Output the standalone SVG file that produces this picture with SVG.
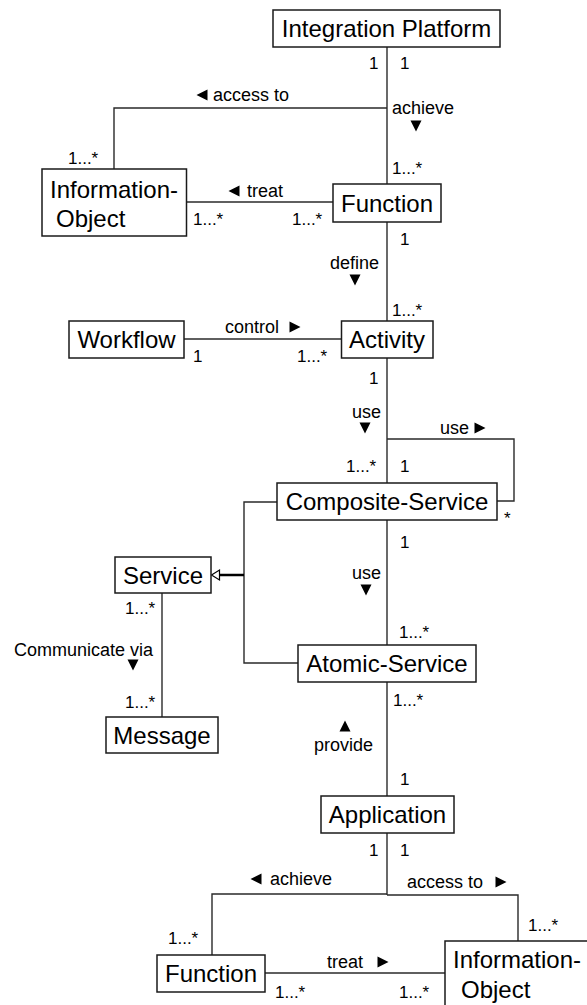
<svg xmlns="http://www.w3.org/2000/svg" xmlns:xlink="http://www.w3.org/1999/xlink" width="587" height="1005" viewBox="0 0 587 1005">
<style>
.box{fill:#fff;stroke:#1a1a1a;stroke-width:1.5}
.nt{font-family:"Liberation Sans",Arial,sans-serif;font-size:24px;fill:#000;text-anchor:middle}
.nl{font-family:"Liberation Sans",Arial,sans-serif;font-size:24px;fill:#000}
.lb{font-family:"Liberation Sans",Arial,sans-serif;font-size:18px;fill:#000}
.mu{font-family:"Liberation Sans",Arial,sans-serif;font-size:17px;fill:#000}
.ln{fill:none;stroke:#2a2a2a;stroke-width:1.4}
.tri{fill:#000}
</style>
<defs>
<path id="td" d="M-5.5,-5.5 H5.5 L0,5.5 Z"/>
<path id="tu" d="M-5.5,5.5 H5.5 L0,-5.5 Z"/>
<path id="tl" d="M5.5,-5.5 V5.5 L-5.5,0 Z"/>
<path id="tr" d="M-5.5,-5.5 V5.5 L5.5,0 Z"/>
</defs>
<g id="connectors">
<path class="ln" d="M387,47 V184"/>
<path class="ln" d="M387,108 H114 V169"/>
<path class="ln" d="M186.5,202 H333"/>
<path class="ln" d="M387,222 V321"/>
<path class="ln" d="M184,339 H341.5"/>
<path class="ln" d="M387,358 V483"/>
<path class="ln" d="M387,439 H514 V501 H497"/>
<path class="ln" d="M387,520 V645"/>
<path class="ln" d="M277,502 H244 V663 H298"/>
<path d="M219,575 H244" fill="none" stroke="#000" stroke-width="2.5"/>
<path d="M211.5,575 L219.5,570 V580 Z" fill="#fff" stroke="#000" stroke-width="1.2"/>
<path class="ln" d="M162,593 V717"/>
<path class="ln" d="M387,682 V796"/>
<path class="ln" d="M387,833 V895"/>
<path class="ln" d="M387,894 H212 V955"/>
<path class="ln" d="M387,895 H518 V941"/>
<path class="ln" d="M265,973 H445"/>
<g class="tri">
<use xlink:href="#tl" x="202" y="95"/>
<use xlink:href="#td" x="416" y="126"/>
<use xlink:href="#tl" x="234" y="191"/>
<use xlink:href="#td" x="355" y="280"/>
<use xlink:href="#tr" x="295" y="327"/>
<use xlink:href="#td" x="365" y="428"/>
<use xlink:href="#tr" x="480" y="428"/>
<use xlink:href="#td" x="366" y="590"/>
<use xlink:href="#td" x="133" y="665"/>
<use xlink:href="#tu" x="345" y="726"/>
<use xlink:href="#tl" x="256" y="879"/>
<use xlink:href="#tr" x="501" y="882"/>
<use xlink:href="#tr" x="383" y="962"/>
</g>
<g>
<text class="lb" x="213" y="101">access to</text>
<text class="lb" x="392" y="114">achieve</text>
<text class="lb" x="247" y="197">treat</text>
<text class="lb" x="330" y="269">define</text>
<text class="lb" x="225" y="333">control</text>
<text class="lb" x="352" y="418">use</text>
<text class="lb" x="440" y="434">use</text>
<text class="lb" x="352" y="579">use</text>
<text class="lb" x="14" y="656" font-size="17">Communicate via</text>
<text class="lb" x="314" y="751">provide</text>
<text class="lb" x="270" y="885">achieve</text>
<text class="lb" x="407" y="888">access to</text>
<text class="lb" x="327" y="968">treat</text>
</g>
<g>
<text class="mu" x="369" y="69">1</text>
<text class="mu" x="400" y="69">1</text>
<text class="mu" x="392" y="174">1...*</text>
<text class="mu" x="68" y="164">1...*</text>
<text class="mu" x="193" y="225">1...*</text>
<text class="mu" x="292" y="225">1...*</text>
<text class="mu" x="400" y="245">1</text>
<text class="mu" x="392" y="316">1...*</text>
<text class="mu" x="193" y="362">1</text>
<text class="mu" x="297" y="362">1...*</text>
<text class="mu" x="369" y="384">1</text>
<text class="mu" x="346" y="472">1...*</text>
<text class="mu" x="400" y="472">1</text>
<text class="mu" x="504" y="524">*</text>
<text class="mu" x="400" y="548">1</text>
<text class="mu" x="125" y="614">1...*</text>
<text class="mu" x="399" y="638">1...*</text>
<text class="mu" x="393" y="706">1...*</text>
<text class="mu" x="125" y="708">1...*</text>
<text class="mu" x="400" y="785">1</text>
<text class="mu" x="369" y="856">1</text>
<text class="mu" x="400" y="856">1</text>
<text class="mu" x="528" y="931">1...*</text>
<text class="mu" x="168" y="944">1...*</text>
<text class="mu" x="275" y="998">1...*</text>
<text class="mu" x="399" y="998">1...*</text>
</g>
</g>
<g id="n-integration-platform"><rect class="box" x="273" y="10" width="227" height="37"/><text class="nt" x="386.5" y="37">Integration Platform</text></g>
<g id="n-infoobject-top"><rect class="box" x="42" y="169" width="144.5" height="67"/><text class="nt" x="114" y="198">Information-</text><text class="nl" x="56" y="227">Object</text></g>
<g id="n-function-top"><rect class="box" x="333" y="184" width="108" height="38"/><text class="nt" x="387" y="212">Function</text></g>
<g id="n-workflow"><rect class="box" x="69" y="321" width="115" height="37"/><text class="nt" x="126.5" y="348">Workflow</text></g>
<g id="n-activity"><rect class="box" x="341.5" y="321" width="91.5" height="37"/><text class="nt" x="387" y="348">Activity</text></g>
<g id="n-composite-service"><rect class="box" x="277" y="483" width="220" height="37"/><text class="nt" x="387" y="510">Composite-Service</text></g>
<g id="n-service"><rect class="box" x="115" y="557" width="96" height="36"/><text class="nt" x="163" y="584">Service</text></g>
<g id="n-atomic-service"><rect class="box" x="298" y="645" width="178" height="37"/><text class="nt" x="387" y="672">Atomic-Service</text></g>
<g id="n-message"><rect class="box" x="106" y="717" width="112" height="36"/><text class="nt" x="162" y="744">Message</text></g>
<g id="n-application"><rect class="box" x="321" y="796" width="133" height="37"/><text class="nt" x="387.5" y="823">Application</text></g>
<g id="n-function-bottom"><rect class="box" x="157" y="955" width="108" height="37"/><text class="nt" x="211" y="982">Function</text></g>
<g id="n-infoobject-bottom"><rect class="box" x="445" y="941" width="150" height="80"/><text class="nl" x="453" y="968">Information-</text><text class="nl" x="461" y="998">Object</text></g>
</svg>
